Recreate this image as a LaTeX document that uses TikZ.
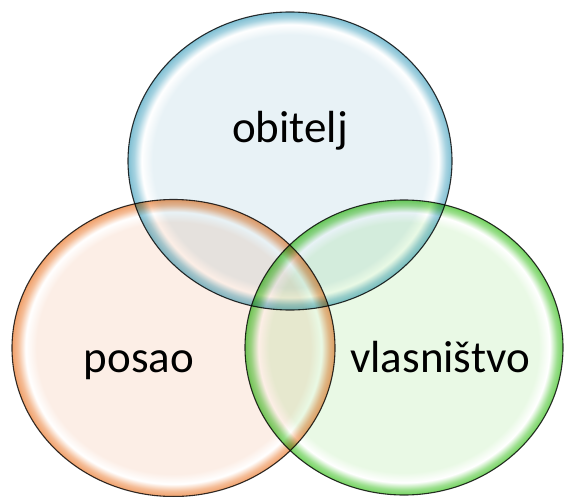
\documentclass[tikz,border=0pt]{standalone}
\usepackage{fontspec}
\setmainfont{Carlito}
\definecolor{bpale}{HTML}{E8F2F6}
\definecolor{bring}{HTML}{7FBFD3}
\definecolor{opale}{HTML}{FCEEE6}
\definecolor{oring}{HTML}{F0A06A}
\definecolor{gpale}{HTML}{E9F9E5}
\definecolor{gring}{HTML}{72D25E}
\pgfdeclareradialshading{bluebub}{\pgfpointorigin}{color(0bp)=(bpale); color(21.2bp)=(bpale); color(22.9bp)=(white); color(24.1bp)=(bring!70!white); color(25bp)=(bring); color(50bp)=(bring)}
\pgfdeclareradialshading{orangebub}{\pgfpointorigin}{color(0bp)=(opale); color(21.2bp)=(opale); color(22.9bp)=(white); color(24.1bp)=(oring!70!white); color(25bp)=(oring); color(50bp)=(oring)}
\pgfdeclareradialshading{greenbub}{\pgfpointorigin}{color(0bp)=(gpale); color(21.2bp)=(gpale); color(22.9bp)=(white); color(24.1bp)=(gring!70!white); color(25bp)=(gring); color(50bp)=(gring)}
\tikzset{
  bubble/.style={draw=black!80, line width=1.1pt},
  lbl/.style={anchor=base, inner sep=0pt, font=\fontsize{45}{50}\selectfont, text=black}
}
\begin{document}
\begin{tikzpicture}[x=1pt, y=-1pt]
\useasboundingbox (0,0) rectangle (564,497);
\begin{scope}[blend group=multiply]
  \path[bubble, shading=bluebub] (290,161) ellipse [x radius=162, y radius=149];
  \path[bubble, shading=orangebub] (173.5,348) ellipse [x radius=161.5, y radius=148.5];
  \path[bubble, shading=greenbub] (404,347.5) ellipse [x radius=159, y radius=147.5];
\end{scope}
\node[lbl] (obitelj) at (290,143) {obitelj};
\node[lbl] (posao) at (139,372) {posao};
\node[lbl] (vlasnistvo) at (440,372) {vlasništvo};
\end{tikzpicture}
\end{document}
